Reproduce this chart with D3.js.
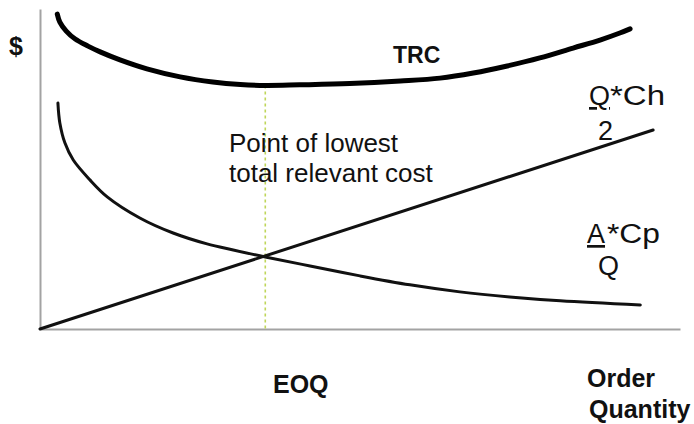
<!DOCTYPE html>
<html>
<head>
<meta charset="utf-8">
<script src="https://cdn.jsdelivr.net/npm/d3@7/dist/d3.min.js"></script>
<style>
  html, body { margin: 0; padding: 0; background: #fff; }
  svg { display: block; font-family: "Liberation Sans", Arial, sans-serif; }
</style>
</head>
<body>
<svg id="chart" width="694" height="424"></svg>
<script>
// Order quantity (relative units 0-100) and cost ($, relative units 0-100)
const holdingQ = [0, 95.8];
const holdingCost = [0, 62.2];

const orderingQ = [2.8, 3.1, 3.9, 5.2, 7.8, 10.5, 15.6, 20.8, 26.1, 30.2, 35.2, 42.2, 50.0, 57.8, 65.6, 73.4, 81.3, 93.8];
const orderingCost = [70.6, 64.4, 58.1, 52.8, 46.6, 41.3, 34.7, 30.0, 26.6, 24.7, 22.5, 19.7, 16.6, 13.8, 11.6, 10.0, 8.8, 7.5];

const trcQ = [2.7, 3.1, 4.1, 5.5, 7.5, 9.4, 12.5, 16.7, 21.9, 27.0, 31.3, 35.2, 40.6, 48.4, 56.3, 62.5, 67.7, 73.0, 78.1, 83.3, 87.5, 90.6, 92.2];
const trcCost = [98.4, 95.9, 93.1, 90.6, 88.4, 86.6, 84.1, 81.3, 78.8, 77.2, 76.4, 76.1, 76.3, 76.7, 77.5, 78.4, 80.0, 82.2, 84.7, 87.8, 90.3, 92.5, 93.8];

const eoq = 35.2;
const eoqCostTop = 76.1;

const svg = d3.select("#chart");
const x = d3.scaleLinear().domain([0, 100]).range([40, 680]);
const y = d3.scaleLinear().domain([0, 100]).range([329, 9]);

// axes (no ticks)
svg.append("g").attr("transform", `translate(0,${y(0)})`)
  .call(d3.axisBottom(x).tickValues([]).tickSizeOuter(0));
svg.append("g").attr("transform", `translate(${x(0)},0)`)
  .call(d3.axisLeft(y).tickValues([]).tickSizeOuter(0));
svg.selectAll(".domain").attr("stroke", "#a3a3a3").attr("stroke-width", 2);

// EOQ dashed guide
svg.append("line")
  .attr("x1", x(eoq)).attr("x2", x(eoq))
  .attr("y1", y(eoqCostTop)).attr("y2", y(0))
  .attr("stroke", "#bfd65a").attr("stroke-width", 1.6)
  .attr("stroke-dasharray", "3,3");

const line = d3.line().x(d => x(d[0])).y(d => y(d[1])).curve(d3.curveCatmullRom.alpha(0.5));

svg.append("path")
  .datum(holdingQ.map((q, i) => [q, holdingCost[i]]))
  .attr("d", d3.line().x(d => x(d[0])).y(d => y(d[1])))
  .attr("fill", "none").attr("stroke", "#111").attr("stroke-width", 3)
  .attr("stroke-linecap", "round");

svg.append("path")
  .datum(orderingQ.map((q, i) => [q, orderingCost[i]]))
  .attr("d", line)
  .attr("fill", "none").attr("stroke", "#111").attr("stroke-width", 3)
  .attr("stroke-linecap", "round");

svg.append("path")
  .datum(trcQ.map((q, i) => [q, trcCost[i]]))
  .attr("d", line)
  .attr("fill", "none").attr("stroke", "#000").attr("stroke-width", 5)
  .attr("stroke-linecap", "round");

// labels
const txt = (s, px, py, size, weight, anchor) =>
  svg.append("text").attr("x", px).attr("y", py).text(s)
    .attr("font-size", size).attr("font-weight", weight || "normal")
    .attr("text-anchor", anchor || "start").attr("fill", "#111");

txt("$", 16, 55, 25, "bold", "middle");
txt("TRC", 393, 63, 23, "bold");
txt("Point of lowest", 229, 152, 26);
txt("total relevant cost", 229, 182, 26);

txt("Q", 589, 105, 27).attr("text-decoration", "underline");
txt("*Ch", 610, 105, 27).attr("textLength", 55).attr("lengthAdjust", "spacingAndGlyphs");
txt("2", 598, 140, 27);

txt("A", 587, 243, 27).attr("text-decoration", "underline");
txt("*Cp", 607, 243, 27).attr("textLength", 53).attr("lengthAdjust", "spacingAndGlyphs");
txt("Q", 598, 275, 27);

txt("EOQ", 273, 393, 25, "bold");
txt("Order", 587, 387, 25, "bold");
txt("Quantity", 589, 418, 25, "bold");
</script>
</body>
</html>
